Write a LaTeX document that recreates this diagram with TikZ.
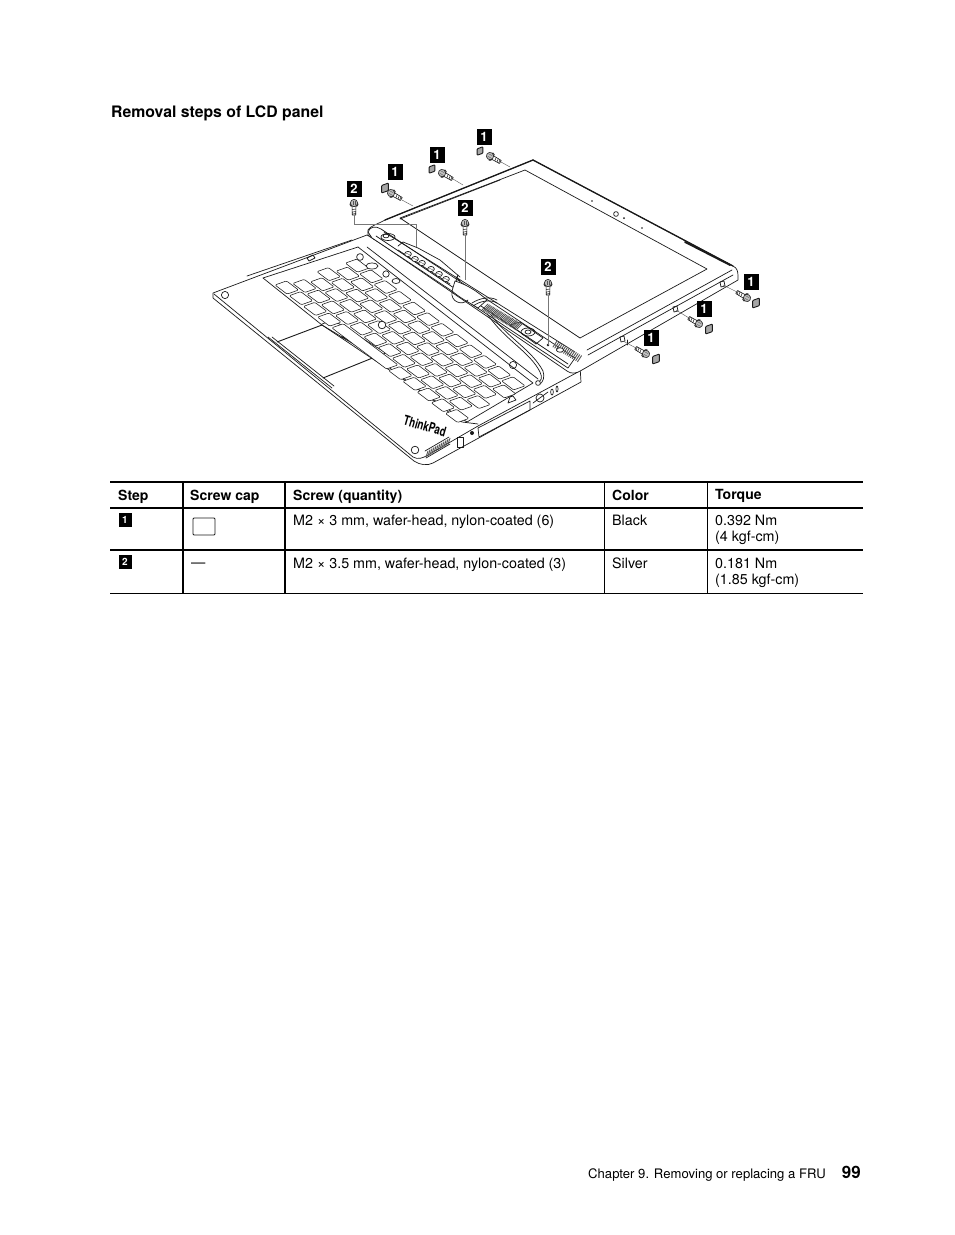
\documentclass[tikz,border=0pt]{standalone}
\usepackage{fontspec}
\setmainfont{TeX Gyre Heros}
\usetikzlibrary{calc}
\definecolor{ink}{HTML}{1A1A1A}
\definecolor{capgray}{HTML}{A6A6A6}
\definecolor{leader}{HTML}{777777}
\tikzset{
  base/.style={draw=ink, line width=0.7pt, line cap=round, line join=round},
  heavy/.style={draw=ink, line width=1.3pt, line cap=round, line join=round},
  fine/.style={draw=ink!75, line width=0.4pt, line cap=round},
  key/.style={draw=ink, line width=0.55pt, fill=white, rounded corners=1.2pt},
  lead/.style={draw=leader, line width=0.7pt},
  rulethick/.style={draw=black, line width=1.7pt},
  rulethin/.style={draw=black, line width=0.8pt},
  tag/.style={fill=black, text=white, font=\bfseries\fontsize{13}{13}\selectfont, minimum width=15pt, minimum height=15.5pt, inner sep=0pt},
  tagsm/.style={fill=black, text=white, font=\bfseries\fontsize{10}{10}\selectfont, minimum width=13pt, minimum height=13.5pt, inner sep=0pt},
  cell/.style={anchor=base west, inner sep=0pt, font=\fontsize{14.3}{17}\selectfont},
  cellb/.style={anchor=base west, inner sep=0pt, font=\bfseries\fontsize{14}{17}\selectfont},
  screw/.pic={
    \draw[base, line width=0.6pt, fill=white] (2.5,-2) -- (12,-1.7) -- (12,1.7) -- (2.5,2) -- cycle;
    \foreach \s in {6,8.5,10.5} \draw[base, line width=0.5pt] (\s,-1.8) -- (\s+0.6,1.8);
    \draw[base, line width=0.6pt, fill=capgray!80] (1,-4.2) -- (3,-3.4) -- (3,3.4) -- (1,4.2) -- cycle;
    \draw[base, line width=0.6pt, fill=capgray!70] (0,0) circle (3.6);
    \draw[fine] (-1.8,-1.3) -- (1.8,-1.3) (-1.8,1.3) -- (1.8,1.3);
  },
  screwcap/.pic={
    \draw[base, line width=0.9pt, fill=capgray, rounded corners=0.8pt] (-3.4,-2.5) -- (3.4,-5) -- (3.4,2.6) -- (-3.4,5) -- cycle;
  },
}
\begin{document}
\begin{tikzpicture}[x=1pt, y=-1pt]
  \useasboundingbox[fill=white] (0,0) rectangle (954,1235);

  % heading
  \node[cellb, font=\bfseries\fontsize{15.8}{18}\selectfont] (heading) at (111,117) {Removal steps of LCD panel};

  % base of the computer
  \draw[base, fill=white] (213,293) -- (367,235) -- (580,366) -- (581,382) -- (433,463)
    .. controls (427,466) and (420,465) .. (414,461) -- (213,298) -- cycle;
  \draw[base] (214,294) -- (413,457) .. controls (418,460) and (423,458) .. (428,455) -- (478,426) -- (578,372);
  \draw[base] (268,337) -- (332,388);
  \draw[base] (272,337) -- (334,386);
  \draw[base] (263,278) -- (358,247);
  \draw[base] (247,276) -- (352,240);
  \draw[heavy, line width=0.9pt] (277,342) -- (322,325);
  \draw[heavy, line width=0.9pt] (323,378) -- (375,357);
  \draw[base] (263,278) -- (322,325) -- (375,357) -- (462,422) -- (478,424);
  \draw[base] (322,324) -- (333,320) -- (386,353) -- (375,357);
  \draw[base] (345,329) -- (357,337) -- (348,340);
  \fill[ink] (340,337) -- (359,345) -- (350,334) -- cycle;
  \draw[base] (225,295) circle (3.6);
  \draw[base] (415,450) circle (3.8);
  \draw[base] (307,258) -- (313,255) -- (315,258) -- (309,261) -- cycle;

  % keyboard frame and keys
  \draw[base] (358,247) -- (533,383) -- (467,422) -- (322,325);
  \draw[base] (367,247) -- (538,379);
  \begin{scope}[shift={(275,285)}, x={(14.2pt,-10.7pt)}, y={(13.5pt,4.8pt)}]
    \foreach \i/\w in {0/0.85,1/0.85,2/0.85,3/0.85,4/3.85,8/0.85,9/0.85,10/0.85,11/0.85,12/0.85}
      \draw[key] (\i,0) -- (\i+\w,0) -- (\i+\w,0.85) -- (\i,0.85) -- cycle;
    \foreach \j/\off/\last in {1/0.3/11,2/0.6/11,3/0.1/11,4/0.5/11,5/0.2/11}
      \foreach \i in {0,...,\last}
        \draw[key] (\i+\off,\j) -- (\i+\off+0.85,\j) -- (\i+\off+0.85,\j+0.85) -- (\i+\off,\j+0.85) -- cycle;
  \end{scope}
  \draw[base, fill=white] (382,325) circle (3.8);
  \draw[base] (513,365) circle (3.6);
  \draw[base, fill=white] (360,257) circle (3.4);
  \draw[base, fill=white] (372,266) ellipse (6 and 3);
  \draw[base, fill=white] (386,274) circle (3.2);
  \draw[base, fill=white] (396,281) ellipse (4 and 2.5);

  % side of the base with its ports
  \draw[base] (478,428) -- (530,401) -- (530,410) -- (479,437) -- cycle;
  \draw[base] (533,403) -- (548,392);
  \draw[base] (540,398) circle (4);
  \draw[base] (552,392) ellipse (1.3 and 3);
  \draw[base] (557,389) ellipse (1 and 3);
  \draw[base] (457,437) rectangle (463,447);
  \fill[ink] (472,433) circle (2);
  \foreach \s in {0,2,...,22}
    \draw[fine, line width=0.9pt] (426+\s,457-0.58*\s) -- (428+\s,451-0.58*\s);
  \draw[base] (426,458) -- (450,444);
  \draw[base] (425,451) -- (449,437);
  \node[font=\bfseries\fontsize{13.5}{14}\selectfont, inner sep=0pt, rotate=-16, xscale=0.72] (brand) at (425,426) {ThinkPad};
  \draw[base] (508,403) -- (516,400) -- (513,396) -- (510,397) -- cycle;

  % lid with the screen
  \draw[base, fill=white] (385,220) -- (533,160) -- (733,266)
    .. controls (737,268) and (738,271) .. (738,276) -- (738,280) -- (582,370)
    .. controls (576,374) and (571,374) .. (567,371) -- (368,235) -- (368,230)
    .. controls (370,226) and (378,224) .. (385,220) -- cycle;
  \draw[heavy] (385,220) -- (533,160);
  \draw[heavy] (533,160) -- (733,266);
  \draw[heavy, line width=1.8pt] (685,242) -- (730,265);
  \draw[base] (400,218) -- (525,170) -- (707,269) -- (580,338) -- cycle;
  \draw[base] (400,219) -- (500,180);
  \draw[base] (732,270) -- (587,350);
  \draw[base] (733,275) -- (588,355);
  \draw[base] (627,340) -- (627,345);
  \draw[base] (616,214) circle (2.4);
  \fill[ink] (592,201) circle (0.9) (624,218) circle (1) (642,228) circle (0.9);

  % hinge area of the lid
  \draw[base, fill=white] (368,232) .. controls (370,226) and (376,226) .. (381,229)
    -- (575,358) -- (568,368) -- (372,238) -- cycle;
  \draw[base] (376,236) -- (568,364);
  \draw[base] (384,232) -- (575,352);
  \draw[base] (388,237) ellipse (7 and 3.5);
  \draw[base] (386,236) ellipse (3 and 1.8);
  \draw[base] (528,332) ellipse (7 and 4);
  \draw[base] (528,332) ellipse (3 and 2);
  \draw[base] (398,246) -- (403,242) -- (418,248) -- (440,260) -- (460,277);
  \draw[base] (398,250) -- (450,284);
  \foreach \p in {(408,254),(415,259),(422,263),(431,269),(439,274),(446,279)} {
    \draw[base, fill=white] \p ellipse (3.4 and 2.6);
    \draw[fine] \p ++(-2,-1) -- ++(4,2);
  }
  \draw[base] (510,325) -- (520,322) -- (543,338) -- (536,344) -- cycle;
  \foreach \t in {0,0.04,...,1}
    \draw[fine, line width=0.9pt] ($(482,310)!\t!(516,330)$) -- ++(6,-6);
  \foreach \t in {0,0.07,...,1}
    \draw[fine, line width=0.9pt] ($(553,347)!\t!(578,362)$) -- ++(4,-6);
  \draw[base, fill=white] (455,281) .. controls (468,285) and (478,292) .. (487,300)
    -- (478,308) .. controls (470,303) and (460,298) .. (452,291) -- cycle;
  \draw[heavy, line width=0.9pt] (456,277) -- (460,281) (458,275) -- (456,281);
  \draw[base] (452,291) .. controls (450,302) and (462,306) .. (468,300);
  \draw[base] (472,303) .. controls (480,298) and (490,296) .. (497,300);
  \draw[base] (473,306) .. controls (480,301) and (490,299) .. (497,303);
  \draw[base, fill=white] (560,350) ellipse (3.6 and 2.2);
  \fill[ink] (548,345) circle (1.4);

  % cable down to the plug
  \draw[base] (488,315) .. controls (505,340) and (530,352) .. (540,372) .. controls (543,378) and (541,381) .. (538,382);
  \draw[base] (491,315) .. controls (508,338) and (532,350) .. (543,371) .. controls (545,377) and (543,382) .. (540,384);
  \draw[base, fill=white] (538,383) circle (2.4);

  % notches of the lid screws
  \foreach \p in {(722,285),(675,310),(622,340)}
    \draw[base] \p ++(-2,-3) -- ++(4,-1) -- ++(1,5) -- ++(-4,1) -- cycle;

  % screws
  \pic[rotate=-30] at (391,193) {screw};
  \pic[rotate=-30] at (442,173) {screw};
  \pic[rotate=-30] at (490,156) {screw};
  \pic[rotate=150] at (747,298) {screw};
  \pic[rotate=150] at (699,324) {screw};
  \pic[rotate=150] at (646,354) {screw};
  \pic[rotate=-90] at (354,203) {screw};
  \pic[rotate=-90] at (465,223) {screw};
  \pic[rotate=-90] at (548,283) {screw};
  \pic at (385,188) {screwcap};
  \pic[scale=0.85] at (432,169) {screwcap};
  \pic[scale=0.85] at (480,151) {screwcap};
  \pic at (756,303) {screwcap};
  \pic at (709,329) {screwcap};
  \pic at (656,359) {screwcap};

  % leaders
  \coordinate (tipA) at (402,200);
  \coordinate (endA) at (413,206);
  \coordinate (tipB) at (453,179);
  \coordinate (endB) at (463,185);
  \coordinate (tipC) at (501,162);
  \coordinate (endC) at (510,167);
  \coordinate (tipD) at (737,292);
  \coordinate (endD) at (723,285);
  \coordinate (tipE) at (689,318);
  \coordinate (endE) at (676,310);
  \coordinate (tipF) at (636,348);
  \coordinate (endF) at (623,341);
  \coordinate (tipG) at (354,215);
  \coordinate (endG) at (416,247);
  \coordinate (tipH) at (465,235);
  \coordinate (endH) at (465,280);
  \coordinate (tipJ) at (548,295);
  \coordinate (endJ) at (548,345);
  \draw[fine] (tipA) -- (endA);
  \draw[fine] (tipB) -- (endB);
  \draw[fine] (tipC) -- (endC);
  \draw[fine] (tipD) -- (endD);
  \draw[fine] (tipE) -- (endE);
  \draw[fine] (tipF) -- (endF);
  \draw[lead] (tipG) -- (354,224) -- (416,224) -- (endG);
  \draw[lead] (tipH) -- (endH);
  \draw[lead] (tipJ) -- (endJ);

  % step numbers in the picture
  \node[tag] (one1) at (484,137) {1};
  \node[tag] (one2) at (437,155) {1};
  \node[tag] (one3) at (395,172) {1};
  \node[tag] (one4) at (751,282) {1};
  \node[tag] (one5) at (704,309) {1};
  \node[tag] (one6) at (651,338) {1};
  \node[tag] (two1) at (354,189) {2};
  \node[tag] (two2) at (465,208) {2};
  \node[tag] (two3) at (548,267) {2};

  % table
  \draw[rulethick] (110,482) -- (863,482);
  \draw[rulethick] (110,508) -- (863,508);
  \draw[rulethick] (110,550) -- (863,550);
  \draw[rulethin] (110,593) -- (863,593);
  \draw[rulethick] (183,482) -- (183,593);
  \draw[rulethick] (285,482) -- (285,593);
  \draw[rulethin] (604,482) -- (604,593);
  \draw[rulethin] (707,482) -- (707,593);

  \node[cellb] (headStep) at (118,500) {Step};
  \node[cellb] (headCap) at (190,500) {Screw cap};
  \node[cellb] (headScrew) at (293,500) {Screw (quantity)};
  \node[cellb] (headColor) at (612,500) {Color};
  \node[cellb] (headTorque) at (715,499) {Torque};

  \node[tagsm] (rowOne) at (125,520) {1};
  \draw[base, line width=0.8pt, rounded corners=1pt] (193,518) rectangle (215,535);
  \node[cell] (screwOne) at (293,525) {M2 × 3 mm, wafer-head, nylon-coated (6)};
  \node[cell] (colorOne) at (612,525) {Black};
  \node[cell] (torqueOne) at (715,525) {0.392 Nm};
  \node[cell] (kgfOne) at (715,541) {(4 kgf-cm)};

  \node[tagsm] (rowTwo) at (125,562) {2};
  \node[cell] (capTwo) at (191,567) {—};
  \node[cell] (screwTwo) at (293,568) {M2 × 3.5 mm, wafer-head, nylon-coated (3)};
  \node[cell] (colorTwo) at (612,568) {Silver};
  \node[cell] (torqueTwo) at (715,568) {0.181 Nm};
  \node[cell] (kgfTwo) at (715,584) {(1.85 kgf-cm)};

  % footer
  \node[cell, font=\fontsize{13.1}{15}\selectfont, anchor=base east] (chapter) at (826,1178) {Chapter 9. Removing or replacing a FRU};
  \node[cellb, font=\bfseries\fontsize{17}{20}\selectfont, anchor=base east] (pageno) at (861,1178) {99};
\end{tikzpicture}
\end{document}
